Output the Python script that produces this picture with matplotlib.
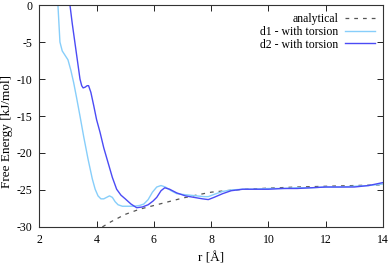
import matplotlib
matplotlib.use("Agg")
import matplotlib.pyplot as plt

plt.rcParams['font.family'] = ['Liberation Serif', 'DejaVu Serif']
plt.rcParams['axes.unicode_minus'] = False

d1_x = [2.65, 2.72, 2.8, 2.9, 3.0, 3.1, 3.2, 3.3, 3.42, 3.55, 3.7, 3.85, 3.95, 4.05, 4.15, 4.25, 4.35,
        4.45, 4.55, 4.65, 4.75, 4.9, 5.1, 5.3, 5.5, 5.65, 5.8, 5.95, 6.1, 6.25, 6.4, 6.6, 6.8, 7.0,
        7.25, 7.5, 7.75, 7.9, 8.1, 8.4, 8.7, 9.1, 9.5, 10, 10.5, 11, 11.5, 12, 12.5, 13, 13.5, 14]
d1_y = [0, -5, -6.2, -6.8, -7.4, -8.8, -10.5, -12.5, -15, -17.8, -20.8, -23.5, -24.9, -25.8, -26.2,
        -26.2, -26.0, -25.8, -26.0, -26.6, -27.0, -27.2, -27.2, -27.2, -27.1, -26.9, -26.3, -25.3,
        -24.6, -24.4, -24.6, -25.1, -25.5, -25.6, -25.7, -25.8, -25.9, -25.9, -25.6, -25.2, -25.0,
        -24.9, -24.9, -24.8, -24.8, -24.7, -24.7, -24.6, -24.6, -24.5, -24.4, -24.2]

d2_x = [3.07, 3.15, 3.24, 3.33, 3.42, 3.48, 3.53, 3.6, 3.67, 3.72, 3.8, 3.9, 4.0, 4.12, 4.25, 4.4,
        4.55, 4.7, 4.85, 5.0, 5.2, 5.4, 5.6, 5.8, 5.97, 6.1, 6.25, 6.38, 6.55, 6.8, 7.1, 7.4, 7.7,
        7.9, 8.1, 8.4, 8.7, 9.1, 9.5, 10, 10.5, 11, 11.5, 12, 12.5, 13, 13.5, 14]
d2_y = [0, -2.5, -5, -7.5, -10, -10.9, -11.2, -11.1, -10.9, -10.9, -11.8, -13.6, -15.5, -17.2,
        -19.3, -21.3, -23.3, -24.9, -25.7, -26.2, -26.9, -27.4, -27.3, -27.0, -26.5, -26.0, -25.1,
        -24.7, -24.9, -25.4, -25.8, -26.0, -26.2, -26.3, -26.0, -25.5, -25.1, -24.9, -24.9, -24.9,
        -24.8, -24.8, -24.7, -24.6, -24.6, -24.6, -24.4, -24.0]

an_x = [4.2, 4.5, 5.0, 5.5, 6.0, 6.5, 7.0, 7.6, 8.0, 8.5, 9, 10, 11, 12, 13, 14]
an_y = [-30, -29.3, -28.3, -27.6, -27.1, -26.6, -26.1, -25.6, -25.3, -25.1, -24.95, -24.75,
        -24.6, -24.5, -24.4, -24.3]

xticks = [2, 4, 6, 8, 10, 12, 14]
yticks = [0, -5, -10, -15, -20, -25, -30]

fig = plt.figure(figsize=(3.92, 2.67), dpi=100)
ax = fig.add_axes([0.1003, 0.150, 0.8767, 0.831])

ax.plot(an_x, an_y, color='#555555', lw=0.9, ls=(0, (3, 4)), label='analytical')
ax.plot(d1_x, d1_y, color='#87cefa', lw=1.0, label='d1 - with torsion')
ax.plot(d2_x, d2_y, color='#4b4bf5', lw=1.0, label='d2 - with torsion')

ax.set_xlim(2, 14)
ax.set_ylim(-30, 0)
ax.set_xticks(xticks)
ax.set_yticks(yticks)
ax.tick_params(direction='in', top=True, right=True, labelsize=8.5, length=4, width=0.6, pad=5)
for s in ax.spines.values():
    s.set_linewidth(0.8)
    s.set_color('#333333')
ax.set_xlabel('r [Å]', fontsize=9.5)
ax.set_ylabel('Free Energy [kJ/mol]', fontsize=9.5)
ax.xaxis.set_label_coords(0.5, -0.115)
ax.yaxis.set_label_coords(-0.077, 0.43)

ax.legend(loc='upper right', frameon=False, markerfirst=False, fontsize=8.5,
          handlelength=2.5, labelspacing=0.05, borderaxespad=0.3, handletextpad=0.6)

fig.savefig('out.png', dpi=100)
